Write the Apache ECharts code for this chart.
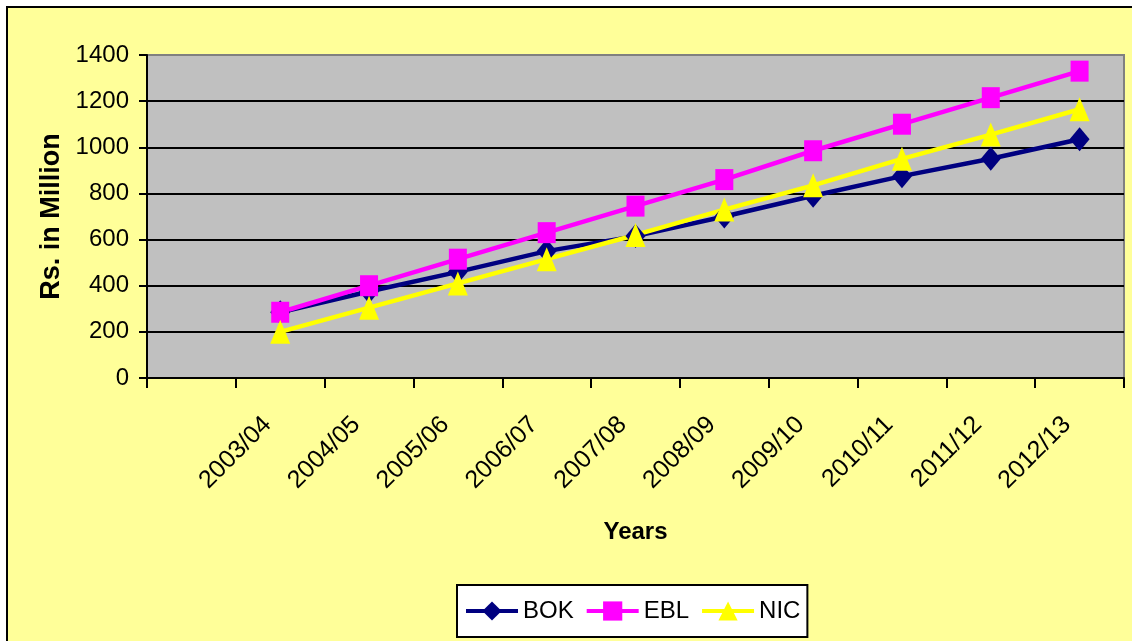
<!DOCTYPE html>
<html>
<head>
<meta charset="utf-8">
<script src="https://cdn.jsdelivr.net/npm/echarts@6/dist/echarts.min.js"></script>
<style>
  html, body { margin: 0; padding: 0; background: #ffffff; overflow: hidden; }
  #bg { position: absolute; left: 6px; top: 6px; width: 1200px; height: 700px;
        background: #FFFF99; border: 2.5px solid #000; }
  #chart { position: absolute; left: 0; top: 0; width: 1132px; height: 641px; }
</style>
</head>
<body>
<div id="bg"></div>
<div id="chart"></div>
<script>
const categories = ['2003/04', '2004/05', '2005/06', '2006/07', '2007/08', '2008/09', '2009/10', '2010/11', '2011/12', '2012/13'];
const bok = [285, 375, 460, 550, 615, 700, 790, 875, 950, 1035];
const ebl = [285, 400, 515, 630, 745, 860, 985, 1100, 1215, 1330];
const nic = [200, 305, 410, 515, 620, 730, 835, 950, 1055, 1165];
const yTicks = { min: 0, max: 1400, interval: 200 };

const FONT = "'Liberation Sans', Arial, sans-serif";
// The original chart has an empty first category slot before 2003/04
const cats = [''].concat(categories);
const pad = arr => [null].concat(arr);

const chart = echarts.init(document.getElementById('chart'), null, { renderer: 'canvas' });
chart.setOption({
  backgroundColor: 'transparent',
  animation: false,
  textStyle: { fontFamily: FONT, color: '#000' },
  grid: {
    left: 147, top: 55, right: 8, bottom: 263,
    show: true, backgroundColor: '#C0C0C0', borderColor: '#808080', borderWidth: 2
  },
  legend: {
    left: 457, top: 585,
    padding: [14, 7],
    itemGap: 11, itemWidth: 52, itemHeight: 24,
    backgroundColor: '#ffffff', borderColor: '#000', borderWidth: 2, borderRadius: 0,
    lineStyle: { width: 4 },
    textStyle: { fontFamily: FONT, fontSize: 24, color: '#000' },
    data: ['BOK', 'EBL', 'NIC']
  },
  xAxis: {
    type: 'category',
    data: cats,
    boundaryGap: true,
    name: 'Years',
    nameLocation: 'middle',
    nameGap: 142,
    nameTextStyle: { fontFamily: FONT, fontSize: 24, fontWeight: 'bold', color: '#000' },
    axisLine: { show: true, lineStyle: { color: '#000', width: 2 } },
    axisTick: { show: true, interval: 0, length: 10, lineStyle: { color: '#000', width: 2 } },
    axisLabel: {
      interval: 0, rotate: 45, margin: 30, padding: [0, 18, 0, 0],
      fontFamily: FONT, fontSize: 25, color: '#000'
    },
    splitLine: { show: false }
  },
  yAxis: {
    type: 'value',
    min: yTicks.min, max: yTicks.max, interval: yTicks.interval,
    name: 'Rs. in Million',
    nameLocation: 'middle',
    nameGap: 80,
    nameTextStyle: { fontFamily: FONT, fontSize: 27, fontWeight: 'bold', color: '#000' },
    axisLine: { show: true, lineStyle: { color: '#000', width: 2 } },
    axisTick: { show: true, length: 8, lineStyle: { color: '#000', width: 2 } },
    axisLabel: { margin: 18, fontFamily: FONT, fontSize: 24, color: '#000',
                 formatter: v => String(v) },
    splitLine: { show: true, showMaxLine: false, lineStyle: { color: '#000', width: 2 } }
  },
  series: [
    {
      name: 'BOK', type: 'line', data: pad(bok),
      symbol: 'diamond', symbolSize: [20, 24],
      itemStyle: { color: '#000080' },
      lineStyle: { color: '#000080', width: 4.5 }
    },
    {
      name: 'EBL', type: 'line', data: pad(ebl),
      symbol: 'rect', symbolSize: [18, 21],
      itemStyle: { color: '#FF00FF' },
      lineStyle: { color: '#FF00FF', width: 4.5 }
    },
    {
      name: 'NIC', type: 'line', data: pad(nic),
      symbol: 'triangle', symbolSize: [20, 24],
      itemStyle: { color: '#FFFF00' },
      lineStyle: { color: '#FFFF00', width: 4.5 }
    }
  ]
});
</script>
</body>
</html>
